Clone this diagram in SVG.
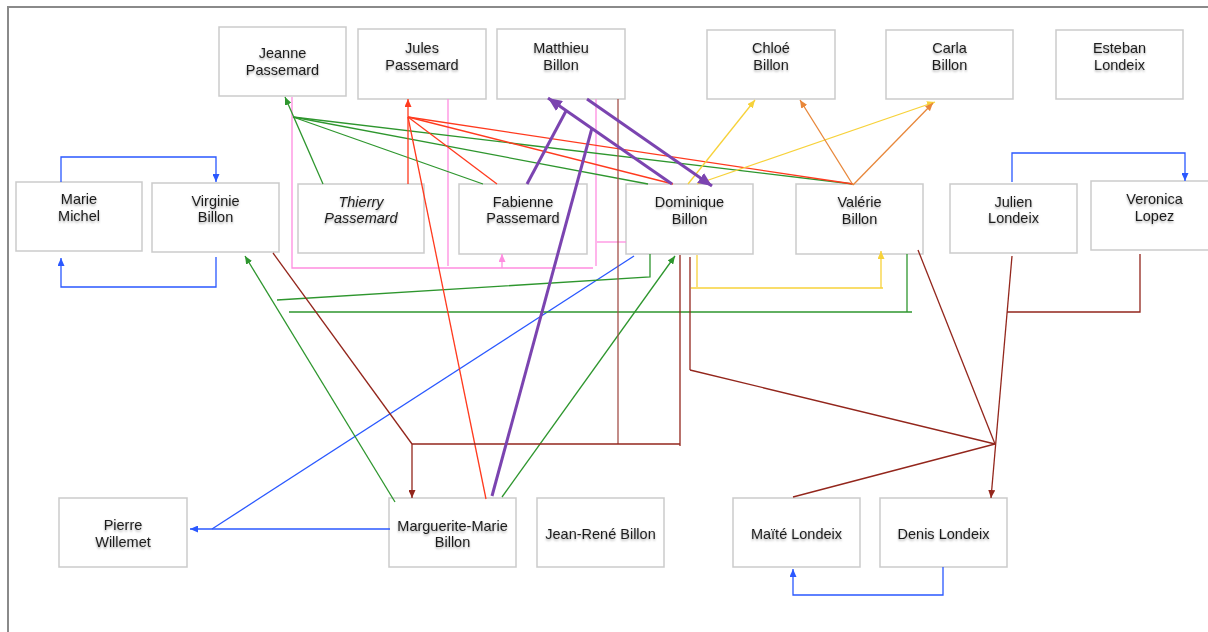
<svg xmlns="http://www.w3.org/2000/svg" width="1208" height="632" viewBox="0 0 1208 632">
<style>
.box{fill:#fff;stroke:#cbcbcb;stroke-width:1.5}
.t{font-family:"Liberation Sans",Arial,sans-serif;font-size:14.5px;fill:#1e1e1e;text-anchor:middle;filter:url(#ts)}
.it{font-style:italic}
.c{fill:none;stroke-width:1.3}
.blue{stroke:#2a58ff}
.red{stroke:#ff3a1e}
.green{stroke:#2e962e}
.pink{stroke:#ff8de0}
.purple{stroke:#7b44b0;stroke-width:3}
.yellow{stroke:#f7d23a}
.orange{stroke:#e8873a}
.dred{stroke:#93261c}
.brown{stroke:#a4504a}
</style>
<defs>
<filter id="ts" x="-10%" y="-30%" width="120%" height="170%">
<feDropShadow dx="0" dy="1.5" stdDeviation="1" flood-color="#000" flood-opacity="0.35"/>
</filter>
<marker id="aBlue" markerUnits="userSpaceOnUse" markerWidth="8" markerHeight="7" refX="8" refY="3.5" orient="auto"><path d="M0,0 L8,3.5 L0,7 z" fill="#2a58ff"/></marker>
<marker id="aRed" markerUnits="userSpaceOnUse" markerWidth="8" markerHeight="7" refX="8" refY="3.5" orient="auto"><path d="M0,0 L8,3.5 L0,7 z" fill="#ff3a1e"/></marker>
<marker id="aGreen" markerUnits="userSpaceOnUse" markerWidth="8" markerHeight="7" refX="8" refY="3.5" orient="auto"><path d="M0,0 L8,3.5 L0,7 z" fill="#2e962e"/></marker>
<marker id="aPink" markerUnits="userSpaceOnUse" markerWidth="8" markerHeight="7" refX="8" refY="3.5" orient="auto"><path d="M0,0 L8,3.5 L0,7 z" fill="#ff8de0"/></marker>
<marker id="aPurple" markerUnits="userSpaceOnUse" markerWidth="14" markerHeight="12" refX="14" refY="6" orient="auto"><path d="M0,0 L14,6 L0,12 z" fill="#7b44b0"/></marker>
<marker id="aYellow" markerUnits="userSpaceOnUse" markerWidth="8" markerHeight="7" refX="8" refY="3.5" orient="auto"><path d="M0,0 L8,3.5 L0,7 z" fill="#f7d23a"/></marker>
<marker id="aOrange" markerUnits="userSpaceOnUse" markerWidth="8" markerHeight="7" refX="8" refY="3.5" orient="auto"><path d="M0,0 L8,3.5 L0,7 z" fill="#e8873a"/></marker>
<marker id="aDred" markerUnits="userSpaceOnUse" markerWidth="8" markerHeight="7" refX="8" refY="3.5" orient="auto"><path d="M0,0 L8,3.5 L0,7 z" fill="#93261c"/></marker>
</defs>
<rect width="1208" height="632" fill="#fff"/>
<g id="frame" fill="none" stroke="#8a8a8a" stroke-width="2">
<polyline points="8,632 8,7 1208,7"/>
</g>
<g id="nodes">
<g id="n-jeanne"><rect class="box" x="219" y="27" width="127" height="69"/><text class="t" x="282.5" y="58">Jeanne</text><text class="t" x="282.5" y="75">Passemard</text></g>
<g id="n-jules"><rect class="box" x="358" y="29" width="128" height="70"/><text class="t" x="422" y="53">Jules</text><text class="t" x="422" y="70">Passemard</text></g>
<g id="n-matthieu"><rect class="box" x="497" y="29" width="128" height="70"/><text class="t" x="561" y="53">Matthieu</text><text class="t" x="561" y="70">Billon</text></g>
<g id="n-chloe"><rect class="box" x="707" y="30" width="128" height="69"/><text class="t" x="771" y="53">Chloé</text><text class="t" x="771" y="70">Billon</text></g>
<g id="n-carla"><rect class="box" x="886" y="30" width="127" height="69"/><text class="t" x="949.5" y="53">Carla</text><text class="t" x="949.5" y="70">Billon</text></g>
<g id="n-esteban"><rect class="box" x="1056" y="30" width="127" height="69"/><text class="t" x="1119.5" y="53">Esteban</text><text class="t" x="1119.5" y="70">Londeix</text></g>
<g id="n-marie"><rect class="box" x="16" y="182" width="126" height="69"/><text class="t" x="79" y="204">Marie</text><text class="t" x="79" y="221">Michel</text></g>
<g id="n-virginie"><rect class="box" x="152" y="183" width="127" height="69"/><text class="t" x="215.5" y="206">Virginie</text><text class="t" x="215.5" y="222">Billon</text></g>
<g id="n-thierry"><rect class="box" x="298" y="184" width="126" height="69"/><text class="t it" x="361" y="207">Thierry</text><text class="t it" x="361" y="223">Passemard</text></g>
<g id="n-fabienne"><rect class="box" x="459" y="184" width="128" height="70"/><text class="t" x="523" y="207">Fabienne</text><text class="t" x="523" y="223">Passemard</text></g>
<g id="n-dominique"><rect class="box" x="626" y="184" width="127" height="70"/><text class="t" x="689.5" y="207">Dominique</text><text class="t" x="689.5" y="224">Billon</text></g>
<g id="n-valerie"><rect class="box" x="796" y="184" width="127" height="70"/><text class="t" x="859.5" y="207">Valérie</text><text class="t" x="859.5" y="224">Billon</text></g>
<g id="n-julien"><rect class="box" x="950" y="184" width="127" height="69"/><text class="t" x="1013.5" y="207">Julien</text><text class="t" x="1013.5" y="223">Londeix</text></g>
<g id="n-veronica"><rect class="box" x="1091" y="181" width="128" height="69"/><text class="t" x="1154.5" y="204">Veronica</text><text class="t" x="1154.5" y="221">Lopez</text></g>
<g id="n-pierre"><rect class="box" x="59" y="498" width="128" height="69"/><text class="t" x="123" y="530">Pierre</text><text class="t" x="123" y="547">Willemet</text></g>
<g id="n-marguerite"><rect class="box" x="389" y="498" width="127" height="69"/><text class="t" x="452.5" y="531">Marguerite-Marie</text><text class="t" x="452.5" y="547">Billon</text></g>
<g id="n-jeanrene"><rect class="box" x="537" y="498" width="127" height="69"/><text class="t" x="600.5" y="539">Jean-René Billon</text></g>
<g id="n-maite"><rect class="box" x="733" y="498" width="127" height="69"/><text class="t" x="796.5" y="539">Maïté Londeix</text></g>
<g id="n-denis"><rect class="box" x="880" y="498" width="127" height="69"/><text class="t" x="943.5" y="539">Denis Londeix</text></g>
</g>
<g id="connectors">
<g id="c-blue">
<polyline class="c blue" points="61,182 61,157 216,157 216,182" marker-end="url(#aBlue)"/>
<polyline class="c blue" points="216,257 216,287 61,287 61,258" marker-end="url(#aBlue)"/>
<polyline class="c blue" points="1012,182 1012,153 1185,153 1185,181" marker-end="url(#aBlue)"/>
<polyline class="c blue" points="943,567 943,595 793,595 793,569" marker-end="url(#aBlue)"/>
<line class="c blue" x1="634" y1="256" x2="212" y2="529"/>
<line class="c blue" x1="390" y1="529" x2="190" y2="529" marker-end="url(#aBlue)"/>
</g>
<g id="c-pink">
<polyline class="c pink" points="292,97 292,268 593,268"/>
<line class="c pink" x1="448" y1="99" x2="448" y2="266"/>
<line class="c pink" x1="596" y1="99" x2="596" y2="266"/>
<line class="c pink" x1="626" y1="242" x2="597" y2="242"/>
<line class="c pink" x1="502" y1="268" x2="502" y2="254" marker-end="url(#aPink)"/>
</g>
<g id="c-green">
<line class="c green" x1="323" y1="184" x2="285" y2="97" marker-end="url(#aGreen)"/>
<line class="c green" x1="293" y1="117" x2="483" y2="184"/>
<line class="c green" x1="293" y1="117" x2="648" y2="184"/>
<line class="c green" x1="293" y1="117" x2="853" y2="184"/>
<line class="c green" x1="395" y1="502" x2="245" y2="256" marker-end="url(#aGreen)"/>
<line class="c green" x1="502" y1="497" x2="675" y2="256" marker-end="url(#aGreen)"/>
<polyline class="c green" points="650,254 650,277 277,300"/>
<line class="c green" x1="907" y1="254" x2="907" y2="312"/>
<line class="c green" x1="289" y1="312" x2="912" y2="312"/>
</g>
<g id="c-red">
<line class="c red" x1="408" y1="184" x2="408" y2="99" marker-end="url(#aRed)"/>
<line class="c red" x1="408" y1="117" x2="497" y2="184"/>
<line class="c red" x1="408" y1="117" x2="673" y2="184"/>
<line class="c red" x1="408" y1="117" x2="853" y2="184"/>
<line class="c red" x1="408" y1="117" x2="486" y2="499"/>
</g>
<g id="c-yellow">
<line class="c yellow" x1="688" y1="184" x2="755" y2="100" marker-end="url(#aYellow)"/>
<line class="c yellow" x1="697" y1="184" x2="935" y2="102" marker-end="url(#aYellow)"/>
<line class="c yellow" x1="697" y1="255" x2="697" y2="287"/>
<line class="c yellow" x1="691" y1="288" x2="883" y2="288"/>
<line class="c yellow" x1="881" y1="288" x2="881" y2="251" marker-end="url(#aYellow)"/>
</g>
<g id="c-orange">
<line class="c orange" x1="853" y1="185" x2="800" y2="100" marker-end="url(#aOrange)"/>
<line class="c orange" x1="853" y1="185" x2="933" y2="103" marker-end="url(#aOrange)"/>
</g>
<g id="c-darkred">
<line class="c dred" x1="273" y1="253" x2="412" y2="444"/>
<line class="c brown" x1="618" y1="99" x2="618" y2="444"/>
<line class="c dred" x1="680" y1="255" x2="680" y2="446"/>
<line class="c dred" x1="412" y1="444" x2="680" y2="444"/>
<line class="c dred" x1="412" y1="444" x2="412" y2="498" marker-end="url(#aDred)"/>
<line class="c dred" x1="690" y1="257" x2="690" y2="370"/>
<line class="c dred" x1="690" y1="370" x2="995" y2="444"/>
<line class="c dred" x1="918" y1="250" x2="995" y2="444"/>
<line class="c dred" x1="793" y1="497" x2="995" y2="444"/>
<line class="c dred" x1="1012" y1="256" x2="991" y2="498" marker-end="url(#aDred)"/>
<polyline class="c dred" points="1007,312 1140,312 1140,254"/>
</g>
<g id="c-purple">
<line class="c purple" x1="672" y1="184" x2="548" y2="98" marker-end="url(#aPurple)"/>
<line class="c purple" x1="587" y1="99" x2="712" y2="186" marker-end="url(#aPurple)"/>
<line class="c purple" x1="527" y1="184" x2="566" y2="111"/>
<line class="c purple" x1="492" y1="496" x2="592" y2="128"/>
</g>
</g>
</svg>
